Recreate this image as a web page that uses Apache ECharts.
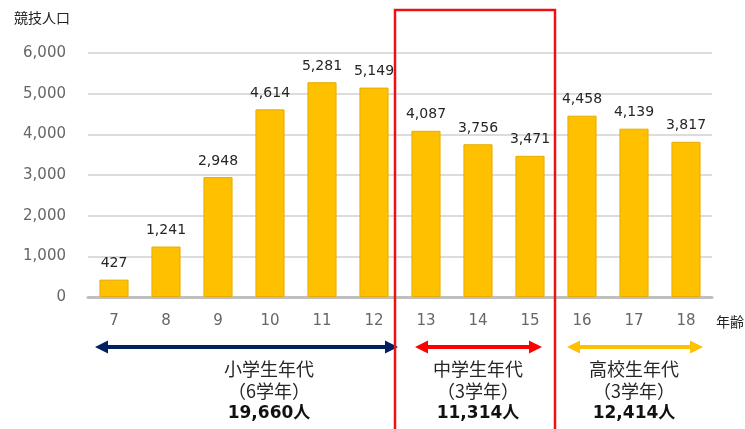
<!DOCTYPE html>
<html><head><meta charset="utf-8">
<script src="https://cdn.jsdelivr.net/npm/echarts@6/dist/echarts.min.js"></script>
<style>html,body{margin:0;padding:0;background:#fff}#c{width:745px;height:429px}</style>
</head><body><div id="c"></div>
<script>
const ages = ['7','8','9','10','11','12','13','14','15','16','17','18'];
const population = [427,1241,2948,4614,5281,5149,4087,3756,3471,4458,4139,3817];
const groupNames = ['小学生年代','中学生年代','高校生年代'];
const groupYears = ['（6学年）','（3学年）','（3学年）'];
const groupTotals = ['19,660人','11,314人','12,414人'];
const groupFirst = ['7','13','16'];
const groupLast = ['12','15','18'];

const FONT = '"Noto Sans CJK JP","Noto Sans",sans-serif';
const NUMFONT = '"DejaVu Sans","Noto Sans CJK JP",sans-serif';
const chart = echarts.init(document.getElementById('c'));
const fmt = v => Number(v).toLocaleString('en-US');
chart.setOption({
  animation:false,
  title:{text:'競技人口',left:9,top:6,textStyle:{fontSize:14,fontWeight:'normal',color:'#222',fontFamily:FONT}},
  grid:{left:88,right:33,top:53,bottom:132},
  xAxis:{type:'category',data:ages,
    axisLine:{lineStyle:{color:'#bfbfbf',width:3}},
    axisTick:{show:false},
    axisLabel:{fontSize:15,color:'#666',margin:17,fontFamily:NUMFONT}},
  yAxis:{type:'value',min:0,max:6000,interval:1000,
    axisLine:{show:false},axisTick:{show:false},
    splitLine:{lineStyle:{color:'#d0d0d0',width:1.5}},
    axisLabel:{fontSize:15,color:'#666',margin:22,formatter:fmt,fontFamily:NUMFONT}},
  series:[{type:'bar',data:population,barWidth:'56%',
    itemStyle:{color:'#FFC000',borderColor:'#E6AC00',borderWidth:1},
    label:{show:true,position:'top',distance:9,fontSize:14,color:'#262626',formatter:p=>fmt(p.value),fontFamily:NUMFONT}}]
});

function buildGraphics(){
  const cx = c => chart.convertToPixel({xAxisIndex:0}, c);
  const band = cx(ages[1]) - cx(ages[0]);
  const y0 = chart.convertToPixel({yAxisIndex:0}, 0);
  const colors = ['#002060','#FF0000','#FFC000'];
  const arrowInset = [[7,2],[15,14],[11,9]];
  const textShift = [25,0,0];
  const els = [];
  function arrow(x1,x2,y,color){
    const h=13,hh=6.5,t=2;
    return {type:'polygon',z:10,shape:{points:[[x1,y],[x1+h,y-hh],[x1+h,y-t],[x2-h,y-t],[x2-h,y-hh],[x2,y],[x2-h,y+hh],[x2-h,y+t],[x1+h,y+t],[x1+h,y+hh]]},style:{fill:color}};
  }
  for(let i=0;i<3;i++){
    const l = cx(groupFirst[i]) - band/2, r = cx(groupLast[i]) + band/2;
    els.push(arrow(l+arrowInset[i][0], r-arrowInset[i][1], y0+50, colors[i]));
    const mx = (l+r)/2 + textShift[i];
    els.push({type:'text',z:10,style:{text:groupNames[i],x:mx,y:y0+72,align:'center',verticalAlign:'middle',fontSize:18,fill:'#262626',fontFamily:FONT}});
    els.push({type:'text',z:10,style:{text:groupYears[i],x:mx,y:y0+94,align:'center',verticalAlign:'middle',fontSize:18,fill:'#262626',fontFamily:FONT}});
    els.push({type:'text',z:10,style:{text:groupTotals[i],x:mx,y:y0+117,align:'center',verticalAlign:'middle',fontSize:17,fontWeight:'bold',fill:'#111',fontFamily:NUMFONT}});
  }
  const rl = cx('13') - band/2 - 5, rr = cx('15') + band/2 - 1;
  els.push({type:'rect',z:20,shape:{x:rl,y:10,width:rr-rl,height:440},style:{fill:'none',stroke:'#EE1111',lineWidth:2.5}});
  const xr = cx('18') + band/2;
  els.push({type:'text',z:10,style:{text:'年齢',x:xr+4,y:y0+25,align:'left',verticalAlign:'middle',fontSize:14,fill:'#222',fontFamily:FONT}});
  chart.setOption({graphic:{elements:els}});
}
buildGraphics();
</script></body></html>
